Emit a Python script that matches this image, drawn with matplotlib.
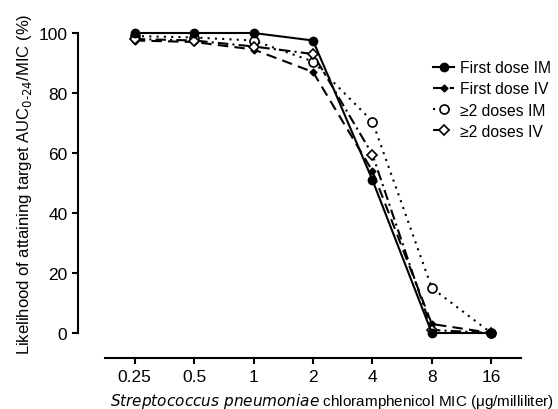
import matplotlib
matplotlib.use("Agg")
import matplotlib.pyplot as plt

plt.rcParams['font.family'] = ['Liberation Sans', 'DejaVu Sans']

mic_labels = ['0.25', '0.5', '1', '2', '4', '8', '16']
first_im = [100, 100, 100, 97.5, 51, 0, 0]
first_iv = [97.5, 97, 94.5, 87, 54, 3, 0]
multi_im = [99, 98.5, 97.5, 90.5, 70.5, 15, 0]
multi_iv = [98, 97.5, 95.5, 93, 59.5, 1, 0]

fig = plt.figure(figsize=(5.58, 4.10), dpi=100)
ax = fig.add_axes([105/558, 76/410, 416/558, 300/410])
xs = range(len(mic_labels))

ax.plot(xs, first_im, color='black', ls='-', lw=1.5, marker='o', ms=6,
        mfc='black', label='First dose IM', clip_on=False, zorder=4)
ax.plot(xs, first_iv, color='black', ls=(0, (5, 3)), lw=1.5, marker='D', ms=3.5,
        mfc='black', label='First dose IV', clip_on=False, zorder=3)
ax.plot(xs, multi_im, color='black', ls=(0, (1, 2.5)), lw=1.5, marker='o', ms=6.5,
        mfc='white', mew=1.2, label='≥2 doses IM', clip_on=False, zorder=3)
ax.plot(xs, multi_iv, color='black', ls=(0, (5, 2, 1, 2)), lw=1.5, marker='D', ms=5,
        mfc='white', mew=1.2, label='≥2 doses IV', clip_on=False, zorder=3)

ax.set_xlim(-0.5, 6.5)
ax.set_ylim(0, 100)
ax.set_xticks(list(xs))
ax.set_xticklabels(mic_labels)
ax.set_yticks([0, 20, 40, 60, 80, 100])

ax.spines['top'].set_visible(False)
ax.spines['right'].set_visible(False)
ax.spines['left'].set_position(('outward', 19.5))
ax.spines['bottom'].set_position(('outward', 18))
ax.spines['left'].set_linewidth(1.5)
ax.spines['bottom'].set_linewidth(1.5)
ax.tick_params(axis='both', direction='out', length=4, width=1.5, labelsize=12.5)
ax.tick_params(axis='x', pad=4)

ax.set_ylabel('Likelihood of attaining target AUC$_{0\u201024}$/MIC (%)', fontsize=12, labelpad=3)
ax.set_xlabel('$\\it{Streptococcus\\ pneumoniae}$ chloramphenicol MIC (\u03bcg/milliliter)',
              fontsize=11, labelpad=5)
ax.xaxis.label.set_x(0.546)

ax.legend(loc='upper left', bbox_to_anchor=(433/558, 1 - 61/410), bbox_transform=fig.transFigure,
          frameon=False, fontsize=11.3, borderpad=0, borderaxespad=0,
          handlelength=1.35, handletextpad=0.4, labelspacing=0.4)

fig.savefig('out.png', dpi=100)
